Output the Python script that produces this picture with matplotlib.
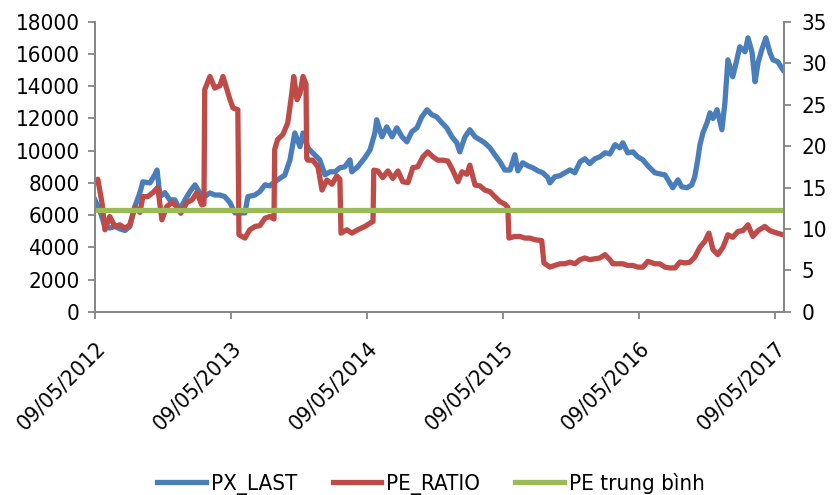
import numpy as np
import pandas as pd
from matplotlib import pyplot as plt

# Chart data

start_date = "2012-05-09"
"""First trading day shown on the chart."""

px_days = [0, 13, 27, 40, 54, 67, 81, 94, 107, 121, 129, 148, 161, 167, 175, 188, 201, 215,
           228, 242, 255, 269, 282, 295, 309, 322, 336, 349, 363, 376, 389, 403, 411, 430,
           443, 457, 470, 483, 497, 510, 524, 537, 551, 559, 572, 585, 604, 618, 631, 645,
           658, 671, 685, 690, 706, 725, 739, 752, 757, 771, 784, 798, 811, 825, 838, 851,
           865, 878, 892, 905, 918, 932, 945, 959, 972, 980, 994, 1007, 1021, 1034, 1047,
           1061, 1074, 1088, 1101, 1115, 1128, 1136, 1149, 1163, 1176, 1190, 1203, 1217,
           1222, 1235, 1249, 1262, 1276, 1289, 1303, 1316, 1329, 1343, 1356, 1370, 1383,
           1397, 1410, 1418, 1431, 1445, 1458, 1472, 1485, 1504, 1517, 1531, 1544, 1552,
           1566, 1576, 1590, 1603, 1611, 1619, 1625, 1633, 1644, 1652, 1660, 1671, 1684,
           1692, 1700, 1713, 1724, 1732, 1746, 1754, 1765, 1773, 1781, 1791, 1802, 1813,
           1821, 1834, 1848]
px_last = [6950, 6330, 5280, 5200, 5300, 5150, 5050, 5300, 6500, 7400, 8070, 8000, 8500,
           8800, 7150, 7400, 6950, 6950, 6330, 6950, 7450, 7880, 7380, 7150, 7380, 7250,
           7250, 7150, 6770, 6140, 6140, 6140, 7150, 7250, 7460, 7880, 7820, 8070, 8280,
           8480, 9430, 11100, 10250, 11100, 10180, 9870, 9430, 8500, 8690, 8690, 8940,
           9000, 9430, 8690, 9000, 9560, 10050, 11100, 11920, 10860, 11480, 10860, 11420,
           10860, 10550, 11170, 11420, 12100, 12540, 12230, 12100, 11730, 11420, 10860,
           10490, 9930, 10860, 11300, 10860, 10680, 10490, 10180, 9750, 9310, 8800, 8800,
           9750, 8750, 9250, 9060, 8940, 8750, 8630, 8320, 8000, 8380, 8450, 8630, 8810,
           8630, 9310, 9500, 9200, 9500, 9620, 9870, 9800, 10370, 10180, 10490, 9870, 9930,
           9620, 9430, 9060, 8630, 8560, 8500, 8000, 7700, 8190, 7760, 7700, 7880, 8380,
           9430, 10370, 11110, 11730, 12350, 12000, 12540, 11300, 12970, 15640, 14590,
           15640, 16450, 16140, 17000, 16080, 14280, 15450, 16260, 17000, 16080, 15640,
           15520, 15020]

pe_days = [0, 8, 19, 27, 40, 54, 67, 81, 94, 107, 121, 129, 142, 156, 169, 180, 193, 207,
           220, 231, 247, 261, 274, 287, 293, 295, 309, 322, 336, 344, 355, 363, 371, 384,
           387, 403, 416, 430, 443, 457, 470, 481, 483, 491, 505, 518, 529, 534, 543, 551,
           559, 567, 569, 572, 585, 599, 610, 623, 637, 650, 658, 661, 677, 690, 706, 725,
           739, 747, 749, 760, 773, 787, 800, 814, 827, 841, 854, 867, 881, 894, 908, 921,
           935, 948, 961, 975, 986, 999, 1007, 1021, 1034, 1047, 1061, 1074, 1088, 1101,
           1109, 1112, 1128, 1141, 1155, 1168, 1182, 1200, 1206, 1222, 1235, 1249, 1262,
           1276, 1289, 1303, 1316, 1329, 1343, 1356, 1370, 1383, 1391, 1405, 1418, 1431,
           1445, 1458, 1472, 1485, 1504, 1517, 1531, 1544, 1558, 1571, 1585, 1598, 1611,
           1625, 1638, 1649, 1660, 1673, 1687, 1700, 1713, 1727, 1740, 1754, 1767, 1781,
           1799, 1813, 1832, 1848]
pe_ratio = [15.6, 16.0, 13.2, 9.9, 11.5, 10.3, 10.5, 10.1, 10.5, 12.6, 12.0, 13.9, 13.9,
            14.4, 15.0, 11.1, 12.7, 13.2, 12.7, 11.9, 13.2, 13.5, 14.4, 12.9, 13.0, 26.8,
            28.4, 27.0, 27.3, 28.4, 26.8, 25.6, 24.6, 24.4, 9.3, 8.9, 9.9, 10.3, 10.4, 11.3,
            11.5, 11.2, 19.6, 20.8, 21.4, 22.8, 26.4, 28.4, 25.6, 26.4, 28.4, 27.5, 18.5,
            18.3, 18.3, 17.5, 14.7, 15.9, 15.4, 16.4, 16.0, 9.5, 9.9, 9.5, 9.9, 10.3, 10.7,
            10.9, 17.1, 17.0, 16.2, 17.0, 16.1, 17.0, 15.7, 15.6, 17.4, 17.5, 18.7, 19.3,
            18.7, 18.3, 18.3, 18.2, 17.1, 15.7, 16.9, 16.6, 17.7, 15.3, 15.2, 14.7, 14.5,
            13.9, 13.3, 13.0, 12.6, 8.9, 9.1, 9.1, 8.9, 8.9, 8.7, 8.6, 5.9, 5.4, 5.6, 5.8,
            5.8, 6.0, 5.8, 6.3, 6.5, 6.3, 6.4, 6.5, 6.9, 6.3, 5.8, 5.8, 5.8, 5.6, 5.6, 5.4,
            5.4, 6.1, 5.8, 5.8, 5.4, 5.3, 5.3, 6.0, 5.9, 6.0, 6.6, 7.8, 8.5, 9.5, 7.5, 6.9,
            7.8, 9.3, 9.0, 9.7, 9.8, 10.5, 9.1, 9.8, 10.3, 9.8, 9.5, 9.3]

pe_mean = 12.3
"""Average P/E over the whole period."""

tick_years = [2012, 2013, 2014, 2015, 2016, 2017]
labels = ["PX_LAST", "PE_RATIO", "PE trung bình"]

# Colours

blue = "#4A7EBB"
red = "#BE4B48"
green = "#9BBB59"
axis_grey = "#868686"

####################################################################################################
# Plot                                                                                             #
####################################################################################################

plt.rcParams["font.family"] = ["DejaVu Sans"]
plt.rcParams["font.stretch"] = "condensed"
fs = 16

t0 = pd.Timestamp(start_date)
px_dates = t0 + pd.to_timedelta(px_days, unit="D")
pe_dates = t0 + pd.to_timedelta(pe_days, unit="D")
x_end = t0 + pd.Timedelta(days=1850)

fig = plt.figure(figsize=(8.32, 4.95), dpi=100)
ax = fig.add_axes([0.114, 0.370, 0.828, 0.586])
ax2 = ax.twinx()

lw = 3.8
l1 = ax.plot(px_dates, px_last, color=blue, lw=lw, solid_joinstyle="round")[0]
l2 = ax2.plot(pe_dates, pe_ratio, color=red, lw=lw, solid_joinstyle="round")[0]
l3 = ax2.plot([t0, x_end], [pe_mean, pe_mean], color=green, lw=lw)[0]

ax.set_xlim(t0, x_end)
ax.set_ylim(0, 18000)
ax2.set_ylim(0, 35)
ax.set_yticks(np.arange(0, 18001, 2000))
ax2.set_yticks(np.arange(0, 36, 5))

ticks = [pd.Timestamp(f"{y}-05-09") for y in tick_years]
ax.set_xticks(ticks)
ax.set_xticklabels([t.strftime("%d/%m/%Y") for t in ticks], rotation=45, ha="right",
                   va="top", rotation_mode="anchor")

for a in (ax, ax2):
    a.spines["top"].set_visible(False)
    for s in ("left", "right", "bottom"):
        a.spines[s].set_color(axis_grey)
        a.spines[s].set_linewidth(1.3)
    a.tick_params(colors=axis_grey, labelcolor="black", labelsize=fs, length=5, width=1.3)
ax.tick_params(axis="x", pad=14)
ax.tick_params(axis="y", pad=6)
ax2.tick_params(axis="y", pad=8)

fig.legend([l1, l2, l3], labels, loc="lower center", bbox_to_anchor=(0.518, -0.04), ncol=3,
           frameon=False, fontsize=fs, handlelength=2.2, handletextpad=0.2, columnspacing=1.6)

fig.savefig("out.png", dpi=100)
